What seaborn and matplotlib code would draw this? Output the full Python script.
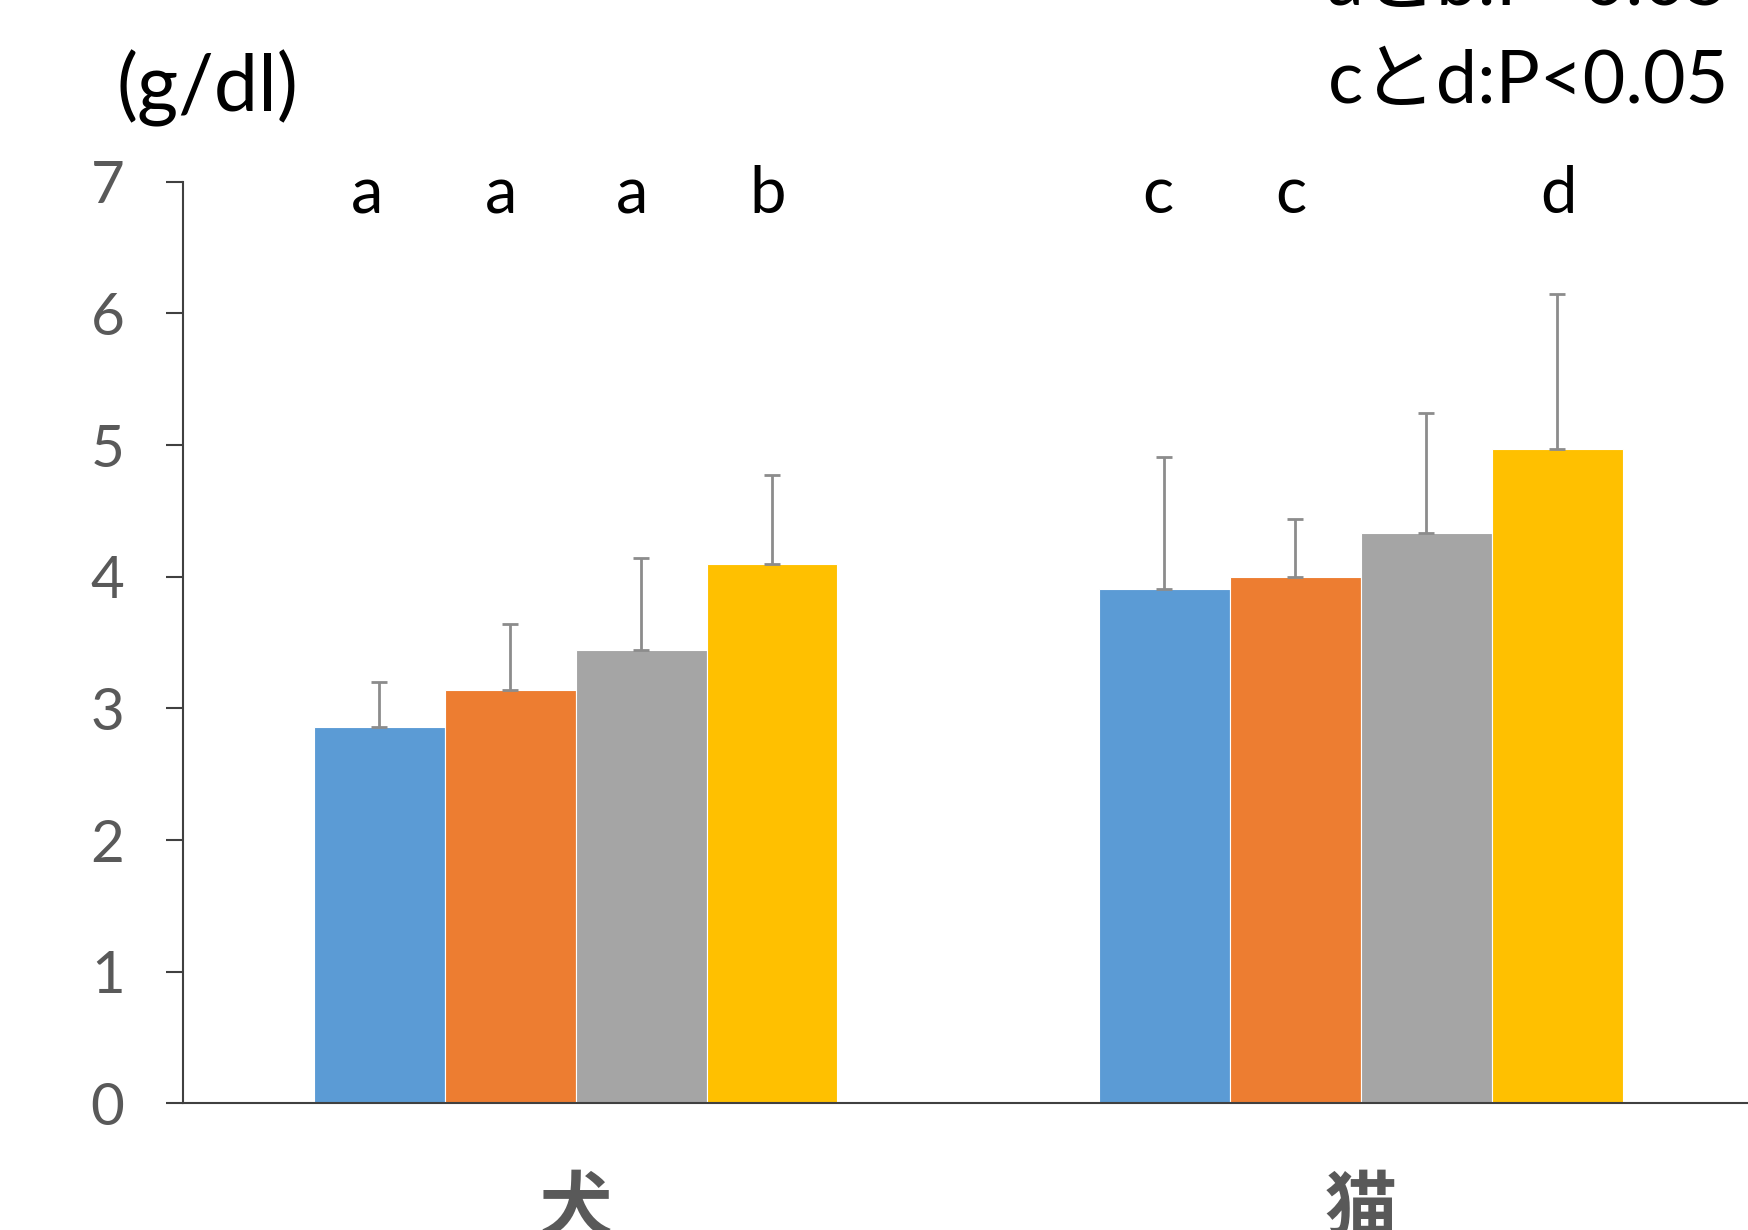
import matplotlib
matplotlib.use("Agg")
import matplotlib.pyplot as plt
import seaborn as sns
import pandas as pd

# ---- data ----
categories = ["犬", "猫"]
series = ["s1", "s2", "s3", "s4"]
dog_values = [2.86, 3.14, 3.44, 4.10]
cat_values = [3.91, 4.00, 4.33, 4.97]
dog_err = [0.34, 0.50, 0.70, 0.67]
cat_err = [1.00, 0.44, 0.91, 1.18]
dog_letters = ["a", "a", "a", "b"]
cat_letters = ["c", "c", "", "d"]
y_ticks = [0, 1, 2, 3, 4, 5, 6, 7]
unit_label = "(g/dl)"
note_lines = ["aとb:P<0.05", "cとd:P<0.05"]
colors = ["#5B9BD5", "#ED7D31", "#A5A5A5", "#FFC000"]

sns.set_theme(style="white")
plt.rcParams["font.family"] = ["Lato", "Noto Sans CJK JP", "DejaVu Sans"]

df = pd.DataFrame({
    "cat": [categories[0]] * 4 + [categories[1]] * 4,
    "series": series * 2,
    "value": dog_values + cat_values,
    "err": dog_err + cat_err,
    "letter": dog_letters + cat_letters,
})

fig = plt.figure(figsize=(17.49, 12.30), dpi=100)
ax = fig.add_axes([0.1046, 0.103, 0.898, 0.7492])

sns.barplot(data=df, x="cat", y="value", hue="series", palette=colors,
            order=categories, hue_order=series, width=0.667, gap=0,
            saturation=1, errorbar=None, ax=ax, legend=False,
            edgecolor="white", linewidth=0.8)

# error bars + letters, positioned from bar patches
bars = sorted([p for p in ax.patches if p.get_height() > 0], key=lambda p: p.get_x())
rows = list(df.itertuples())  # already ordered by category, then series
letter_offsets = [-0.015, -0.012, -0.012, -0.005, -0.008, -0.006, 0.0, 0.002]
for p, row, off in zip(bars, rows, letter_offsets):
    xc = p.get_x() + p.get_width() / 2
    h = p.get_height()
    ax.errorbar([xc], [h], yerr=[[0], [row.err]], fmt="none",
                ecolor="#8C8C8C", elinewidth=2, capsize=6, capthick=2, zorder=3)
    if row.letter:
        ax.text(xc + off, 6.76, row.letter, ha="center", va="baseline",
                fontsize=47, color="black")

ax.set_xlim(-0.5, 1.5)
ax.set_ylim(0, 7)
ax.set_yticks(y_ticks)
ax.set_yticklabels([str(t) for t in y_ticks], fontsize=42, color="#595959")
ax.set_xticks(range(len(categories)))
ax.set_xticklabels(categories, fontsize=52, color="#595959", fontweight="bold",
                   family=["Noto Sans CJK JP"])
ax.set_xlabel("")
ax.set_ylabel("")
ax.tick_params(axis="y", which="major", direction="out", length=12, width=1.5,
               color="#404040", pad=30, left=True)
ax.tick_params(axis="x", length=0, pad=50)
for s in ["top", "right"]:
    ax.spines[s].set_visible(False)
for s in ["left", "bottom"]:
    ax.spines[s].set_color("#404040")
    ax.spines[s].set_linewidth(1.5)

fig.text(117 / 1749, 1 - 88 / 1230, unit_label, ha="left", va="center",
         fontsize=57, color="black")
fig.text(1729 / 1749, 1 - 5 / 1230, note_lines[0], ha="right", va="baseline",
         fontsize=53, color="black")
fig.text(1729 / 1749, 1 - 103 / 1230, note_lines[1], ha="right", va="baseline",
         fontsize=53, color="black")

fig.savefig("out.png", dpi=100)
